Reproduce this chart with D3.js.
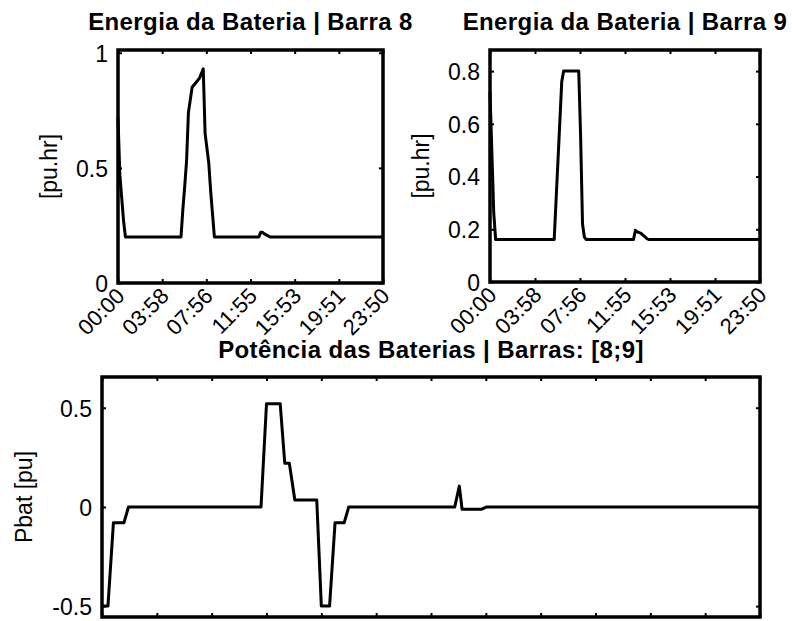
<!DOCTYPE html>
<html>
<head>
<meta charset="utf-8">
<script src="https://cdn.jsdelivr.net/npm/d3@7"></script>
<style>
  body { margin: 0; background: #fff; }
  text { font-family: "Liberation Sans", Arial, sans-serif; fill: #000; }
</style>
</head>
<body>
<div id="chart"></div>
<script>
// time ticks for the two upper plots (minutes from 00:00)
var timeTickLabels = ["00:00", "03:58", "07:56", "11:55", "15:53", "19:51", "23:50"];
var timeTickMinutes = [0, 238.33, 476.67, 715, 953.33, 1191.67, 1430];

// ticks of the lower plot (every 2 h, no labels shown)
var powerTickMinutes = [0, 120, 240, 360, 480, 600, 720, 840, 960, 1080, 1200, 1320, 1440];

// Energia da Bateria | Barra 8
var bar8Minutes = [0, 10, 20, 30, 40, 340, 350, 360, 370, 380, 400, 420, 440, 460, 470, 490, 500, 510, 520, 760, 770, 780, 790, 810, 820, 1430];
var bar8Energy  = [0.72, 0.47, 0.37, 0.27, 0.2, 0.2, 0.32, 0.42, 0.53, 0.74, 0.85, 0.87, 0.89, 0.93, 0.65, 0.52, 0.40, 0.30, 0.2, 0.2, 0.22, 0.22, 0.213, 0.205, 0.2, 0.2];

// Energia da Bateria | Barra 9
var bar9Minutes = [0, 20, 30, 340, 380, 390, 470, 480, 490, 500, 510, 760, 770, 780, 800, 820, 830, 840, 1430];
var bar9Energy  = [0.72, 0.26, 0.161, 0.161, 0.76, 0.8, 0.8, 0.55, 0.22, 0.17, 0.161, 0.161, 0.196, 0.19, 0.184, 0.172, 0.165, 0.161, 0.161];

// Potência das Baterias | Barras: [8;9]
var powerMinutes = [0, 13, 25, 48, 58, 348, 360, 390, 400, 410, 422, 470, 480, 498, 510, 530, 540, 772, 782, 788, 830, 842, 1440];
var powerValues  = [-0.5, -0.5, -0.08, -0.08, 0, 0, 0.52, 0.52, 0.22, 0.22, 0.035, 0.035, -0.5, -0.5, -0.08, -0.08, 0, 0, 0.105, -0.012, -0.012, 0, 0];

var energyTicks8 = [0, 0.5, 1];
var energyTicks9 = [0, 0.2, 0.4, 0.6, 0.8];
var powerTicks = [-0.5, 0, 0.5];

var svg = d3.select("#chart")
  .append("svg")
    .attr("width", 792)
    .attr("height", 621);

// draws one panel: box, inward ticks on all sides, line
function panel(opt) {
  var x = d3.scaleLinear().domain(opt.xDomain).range([opt.left, opt.right]);
  var y = d3.scaleLinear().domain(opt.yDomain).range([opt.bottom, opt.top]);

  var g = svg.append("g");

  // data line
  var line = d3.line()
    .x(function(d) { return x(d[0]); })
    .y(function(d) { return y(d[1]); });
  g.append("path")
    .datum(d3.zip(opt.xs, opt.ys))
    .attr("d", line)
    .attr("fill", "none")
    .attr("stroke", "#000")
    .attr("stroke-width", 3)
    .attr("stroke-linejoin", "round");

  // Y axis (left, with labels)
  var yAxis = g.append("g")
    .attr("transform", "translate(" + opt.left + ",0)")
    .call(d3.axisLeft(y).tickValues(opt.yTicks).tickSize(-4).tickPadding(10)
      .tickFormat(function(d) { return String(d); }));
  yAxis.selectAll("text").style("font-size", "23px").attr("dy", "0.36em");

  // right ticks
  g.append("g")
    .attr("transform", "translate(" + opt.right + ",0)")
    .call(d3.axisRight(y).tickValues(opt.yTicks).tickSize(-4).tickFormat(""));

  // top ticks
  g.append("g")
    .attr("transform", "translate(0," + opt.top + ")")
    .call(d3.axisTop(x).tickValues(opt.xTicks).tickSize(-4).tickFormat(""));

  // X axis (bottom)
  var xAxis = g.append("g")
    .attr("transform", "translate(0," + opt.bottom + ")")
    .call(d3.axisBottom(x).tickValues(opt.xTicks).tickSize(-4)
      .tickFormat(function(d, i) { return opt.xLabels ? opt.xLabels[i] : ""; }));
  xAxis.selectAll("text")
    .attr("x", 0)
    .attr("y", 0)
    .attr("dy", "0.35em")
    .attr("transform", "translate(2,9) rotate(-45)")
    .style("text-anchor", "end")
    .style("font-size", "22px");

  g.selectAll(".domain").remove();
  g.selectAll(".tick line").attr("stroke", "#000").attr("stroke-width", 2);

  // box
  g.append("rect")
    .attr("x", opt.left)
    .attr("y", opt.top)
    .attr("width", opt.right - opt.left)
    .attr("height", opt.bottom - opt.top)
    .attr("fill", "none")
    .attr("stroke", "#000")
    .attr("stroke-width", 3.5);

  // title
  svg.append("text")
    .attr("x", (opt.left + opt.right) / 2)
    .attr("y", opt.titleY)
    .attr("text-anchor", "middle")
    .style("font-size", "24px")
    .style("font-weight", "bold")
    .style("letter-spacing", "0.4px")
    .text(opt.title);

  // y label
  svg.append("text")
    .attr("transform", "translate(" + (opt.left - opt.yLabelOffset) + "," + ((opt.top + opt.bottom) / 2) + ") rotate(-90)")
    .attr("text-anchor", "middle")
    .attr("dy", "0.35em")
    .style("font-size", "23px")
    .text(opt.yLabel);
}

panel({
  left: 118, right: 383, top: 50, bottom: 283,
  xDomain: [0, 1430], yDomain: [0, 1.012],
  xTicks: timeTickMinutes, xLabels: timeTickLabels, yTicks: energyTicks8,
  xs: bar8Minutes, ys: bar8Energy,
  title: "Energia da Bateria | Barra 8", titleY: 30,
  yLabel: "[pu.hr]", yLabelOffset: 69
});

panel({
  left: 490, right: 760, top: 50, bottom: 282,
  xDomain: [0, 1430], yDomain: [0, 0.88],
  xTicks: timeTickMinutes, xLabels: timeTickLabels, yTicks: energyTicks9,
  xs: bar9Minutes, ys: bar9Energy,
  title: "Energia da Bateria | Barra 9", titleY: 30,
  yLabel: "[pu.hr]", yLabelOffset: 69
});

panel({
  left: 102, right: 760, top: 377, bottom: 617,
  xDomain: [0, 1440], yDomain: [-0.555, 0.655],
  xTicks: powerTickMinutes, xLabels: null, yTicks: powerTicks,
  xs: powerMinutes, ys: powerValues,
  title: "Potência das Baterias | Barras: [8;9]", titleY: 358,
  yLabel: "Pbat [pu]", yLabelOffset: 78
});
</script>
</body>
</html>
